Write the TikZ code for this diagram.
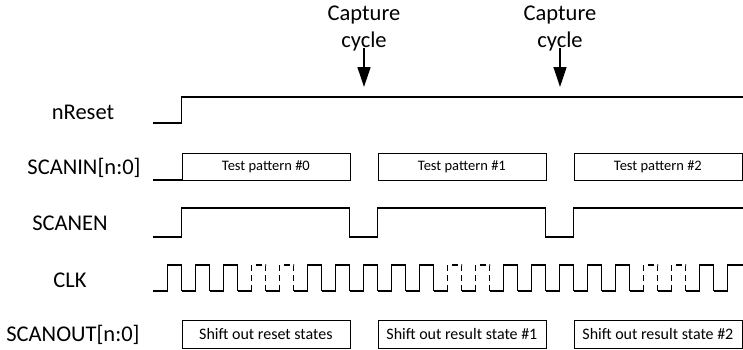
\documentclass[tikz,border=0pt]{standalone}
\usepackage{fontspec}
\setmainfont{Carlito}
\usetikzlibrary{arrows.meta}
\begin{document}
\begin{tikzpicture}[x=1pt,y=-1pt,
  wave/.style={line width=1.2pt, line cap=square, line join=miter},
  dashwave/.style={line width=1.1pt, dash pattern=on 6pt off 4pt},
  busbox/.style={draw, line width=0.8pt, minimum width=168pt, inner sep=0pt, anchor=north west},
  tpbox/.style={busbox, minimum height=27pt, font=\fontsize{14.5}{16}\selectfont},
  sobox/.style={busbox, minimum height=28pt, font=\fontsize{16}{18}\selectfont},
  siglabel/.style={font=\fontsize{22.5}{26}\selectfont, inner sep=0pt},
  captxt/.style={font=\fontsize{22.5}{27}\selectfont, align=center, inner sep=0pt},
  capArrow/.style={line width=1.3pt, -{Triangle[length=20pt,width=13pt]}}]
\useasboundingbox (0,0) rectangle (743,349);

% signal labels
\node[siglabel] (lreset)   at (83,112) {nReset};
\node[siglabel] (lscanin)  at (84,168) {SCANIN[n:0]};
\node[siglabel] (lscanen)  at (70,223) {SCANEN};
\node[siglabel] (lclk)     at (70,280) {CLK};
\node[siglabel] (lscanout) at (73,335) {SCANOUT[n:0]};

% capture cycle markers
\node[captxt] (cap1) at (364,29) {Capture\\cycle};
\node[captxt] (cap2) at (560,29) {Capture\\cycle};
\coordinate (a1s) at (364,48);
\coordinate (a1e) at (364,87);
\coordinate (a2s) at (560,48);
\coordinate (a2e) at (560,87);
\draw[capArrow] (a1s) -- (a1e);
\draw[capArrow] (a2s) -- (a2e);

% nReset
\draw[wave] (153,123) -- (181.5,123) -- (181.5,97) -- (743,97);

% SCANIN
\draw[wave] (153,180) -- (181.5,180);
\node[tpbox] (tp0) at (181.5,153) {Test pattern \#0};
\node[tpbox] (tp1) at (377.5,153) {Test pattern \#1};
\node[tpbox] (tp2) at (573.5,153) {Test pattern \#2};

% SCANEN
\draw[wave] (153,237) -- (181.5,237) -- (181.5,208) -- (349.5,208) -- (349.5,237)
  -- (377.5,237) -- (377.5,208) -- (545.5,208) -- (545.5,237) -- (573.5,237)
  -- (573.5,208) -- (743,208);

% CLK
\draw[wave] (153,291) -- (167.5,291);
\foreach \k in {1,...,20}{
  \pgfmathsetmacro\r{167.5+28*\k}
  \draw[wave] (\r-14,291) -- (\r,291);
}
\foreach \k in {0,1,2,5,6,7,8,9,12,13,14,15,16,19}{
  \pgfmathsetmacro\r{167.5+28*\k}
  \draw[wave] (\r,291) -- (\r,265) -- (\r+14,265) -- (\r+14,291);
}
\foreach \k in {3,4,10,11,17,18}{
  \pgfmathsetmacro\r{167.5+28*\k}
  \draw[dashwave] (\r,291) -- (\r,265) -- (\r+14,265) -- (\r+14,291);
}
\draw[wave] (727.5,291) -- (727.5,265) -- (742.5,265);

% SCANOUT
\node[sobox] (so0) at (181.5,320) {Shift out reset states};
\node[sobox] (so1) at (377.5,320) {Shift out result state \#1};
\node[sobox] (so2) at (573.5,320) {Shift out result state \#2};
\end{tikzpicture}
\end{document}
